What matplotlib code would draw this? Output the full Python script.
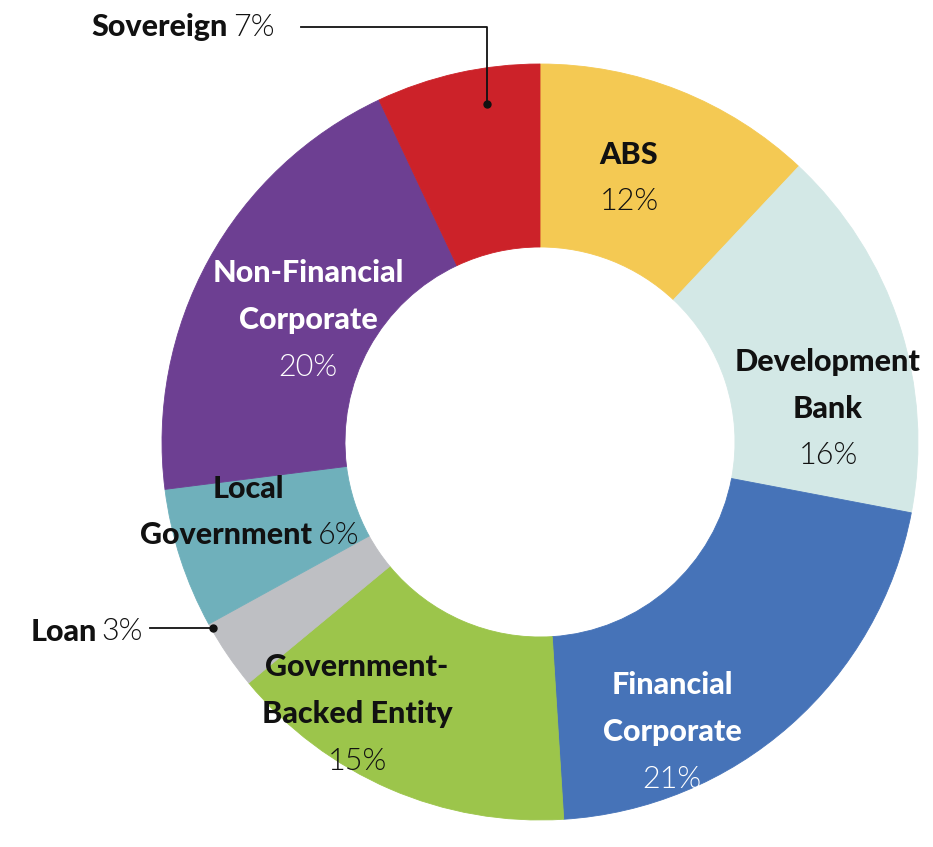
import matplotlib.pyplot as plt

# Portfolio breakdown, clockwise from 12 o'clock
sectors = ["ABS", "Development Bank", "Financial Corporate", "Government-Backed Entity",
           "Loan", "Local Government", "Non-Financial Corporate", "Sovereign"]
shares = [12, 16, 21, 15, 3, 6, 20, 7]
colors = ["#F4C953", "#D3E8E6", "#4673B8", "#9CC54B",
          "#BEBFC3", "#6FB0BB", "#6D3F92", "#CC2229"]

FONT = "Lato"
SIZE = 22
BOLD = "black"
LIGHT = 300

fig = plt.figure(figsize=(9.33, 8.47), dpi=100)
ax = fig.add_axes([0, 0, 1, 1])

# y axis is flipped below, so counterclock=True draws clockwise on screen
wedges, _ = ax.pie(shares, colors=colors, startangle=-90, counterclock=True,
                   center=(540, 442), radius=378, frame=True,
                   wedgeprops=dict(width=183, linewidth=0.6))
for w, c in zip(wedges, colors):
    w.set_edgecolor(c)
ax.set_xlim(0, 933)
ax.set_ylim(847, 0)   # pixel coordinates, y downwards
ax.set_aspect("equal")
ax.axis("off")


def label(x, y, lines, pct, color):
    step = 47
    for i, ln in enumerate(lines):
        ax.text(x, y + i * step, ln, ha="center", va="center", family=FONT,
                fontweight=BOLD, fontsize=SIZE, color=color)
    ax.text(x, y + len(lines) * step, pct, ha="center", va="center", family=FONT,
            fontweight=LIGHT, fontsize=SIZE, color=color)


dark = "#111111"
label(629, 155, ["ABS"], "12%", dark)
label(828, 362, ["Development", "Bank"], "16%", dark)
label(672, 685, ["Financial", "Corporate"], "21%", "white")
label(357, 667, ["Government-", "Backed Entity"], "15%", dark)
label(308, 273, ["Non-Financial", "Corporate"], "20%", "white")

# Local Government 6%
ax.text(248, 489, "Local", ha="center", va="center", family=FONT,
        fontweight=BOLD, fontsize=SIZE, color=dark)
ax.text(312, 535, "Government", ha="right", va="center", family=FONT,
        fontweight=BOLD, fontsize=SIZE, color=dark)
ax.text(318, 535, "6%", ha="left", va="center", family=FONT,
        fontweight=LIGHT, fontsize=SIZE, color=dark)

# Sovereign 7% with leader
ax.text(228, 27, "Sovereign", ha="right", va="center", family=FONT,
        fontweight=BOLD, fontsize=SIZE, color=dark)
ax.text(233, 27, "7%", ha="left", va="center", family=FONT,
        fontweight=LIGHT, fontsize=SIZE, color=dark)
ax.plot([301, 487, 487], [27, 27, 104], color=dark, lw=1.3)
ax.plot([487], [104], "o", color=dark, ms=5)

# Loan 3% with leader
ax.text(97, 632, "Loan", ha="right", va="center", family=FONT,
        fontweight=BOLD, fontsize=SIZE, color=dark)
ax.text(101, 632, "3%", ha="left", va="center", family=FONT,
        fontweight=LIGHT, fontsize=SIZE, color=dark)
ax.plot([150, 213], [628, 628], color=dark, lw=1.3)
ax.plot([213], [628], "o", color=dark, ms=5)

fig.savefig("out.png", dpi=100, facecolor="white")
